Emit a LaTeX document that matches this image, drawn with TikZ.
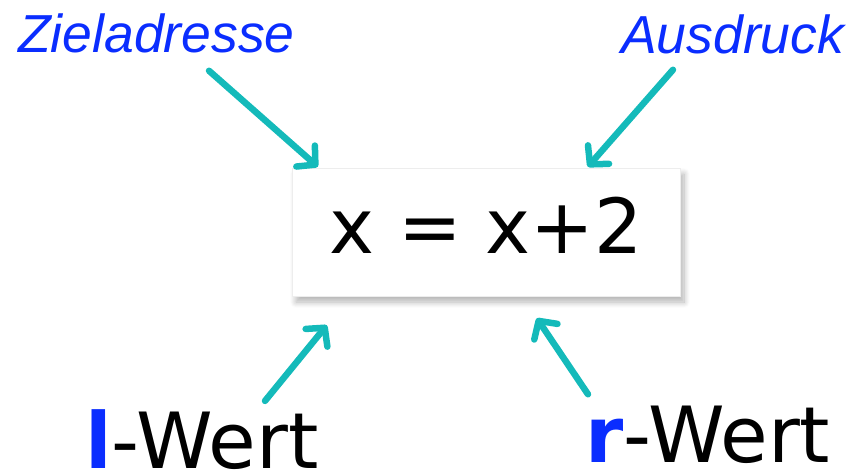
\documentclass[tikz,border=0pt]{standalone}
\usepackage{xcolor}
\usepackage{fontspec}
\setmainfont{DejaVu Sans}
\newfontfamily\arialfont{Liberation Sans}
\usepackage{tikz}
\usetikzlibrary{arrows.meta,positioning,calc,shadows.blur}
\definecolor{zielblue}{RGB}{10,45,255}
\definecolor{pfeilteal}{RGB}{20,186,186}

\begin{document}
\begin{tikzpicture}[
    x=1pt, y=-1pt,
    term/.style={draw=black!7, fill=white, minimum width=388pt, minimum height=128pt,
        text depth=14pt, font=\fontsize{76}{80}\selectfont,
        blur shadow={shadow xshift=4pt, shadow yshift=-6pt, shadow blur steps=10, shadow blur radius=6pt, shadow opacity=30}},
    hint/.style={text=zielblue, font=\arialfont\itshape\fontsize{53.5}{60}\selectfont, inner sep=0pt},
    wert/.style={font=\fontsize{77.5}{80}\selectfont, inner sep=0pt},
    edge/.style={-{Straight Barb[round, length=13pt, width=28pt]}, line width=6.5pt, line cap=round, pfeilteal}
]
\useasboundingbox (0,0) rectangle (852,471);

\node[term] (expr) at (486,232) {x = x+2};

\node[hint, anchor=base west] (ziel) at (18,52) {Zieladresse};
\node[hint, anchor=base west] (ausdruck) at (621,53) {Ausdruck};
\node[wert, anchor=base west] (lwert) at (85,468) {\textcolor{zielblue}{\bfseries l}-Wert};
\node[wert, anchor=base west] (rwert) at (585,462) {\textcolor{zielblue}{\bfseries r}-Wert};

% arrow ends
\coordinate (zielfrom) at ($(ziel.south west)+(191,18)$);
\coordinate (zielto) at ($(expr.north west)+(26,-1)$);
\coordinate (ausfrom) at ($(ausdruck.south west)+(52,16)$);
\coordinate (austo) at ($(expr.north west)+(296,-1)$);
\coordinate (lfrom) at ($(lwert.north west)+(180,-8)$);
\coordinate (lto) at ($(expr.south west)+(35,29)$);
\coordinate (rfrom) at ($(rwert.north west)+(3,-11)$);
\coordinate (rto) at ($(expr.south west)+(245,22)$);

\draw[edge] (zielfrom) -- (zielto);
\draw[edge] (ausfrom) -- (austo);
\draw[edge] (lfrom) -- (lto);
\draw[edge] (rfrom) -- (rto);
\end{tikzpicture}
\end{document}
